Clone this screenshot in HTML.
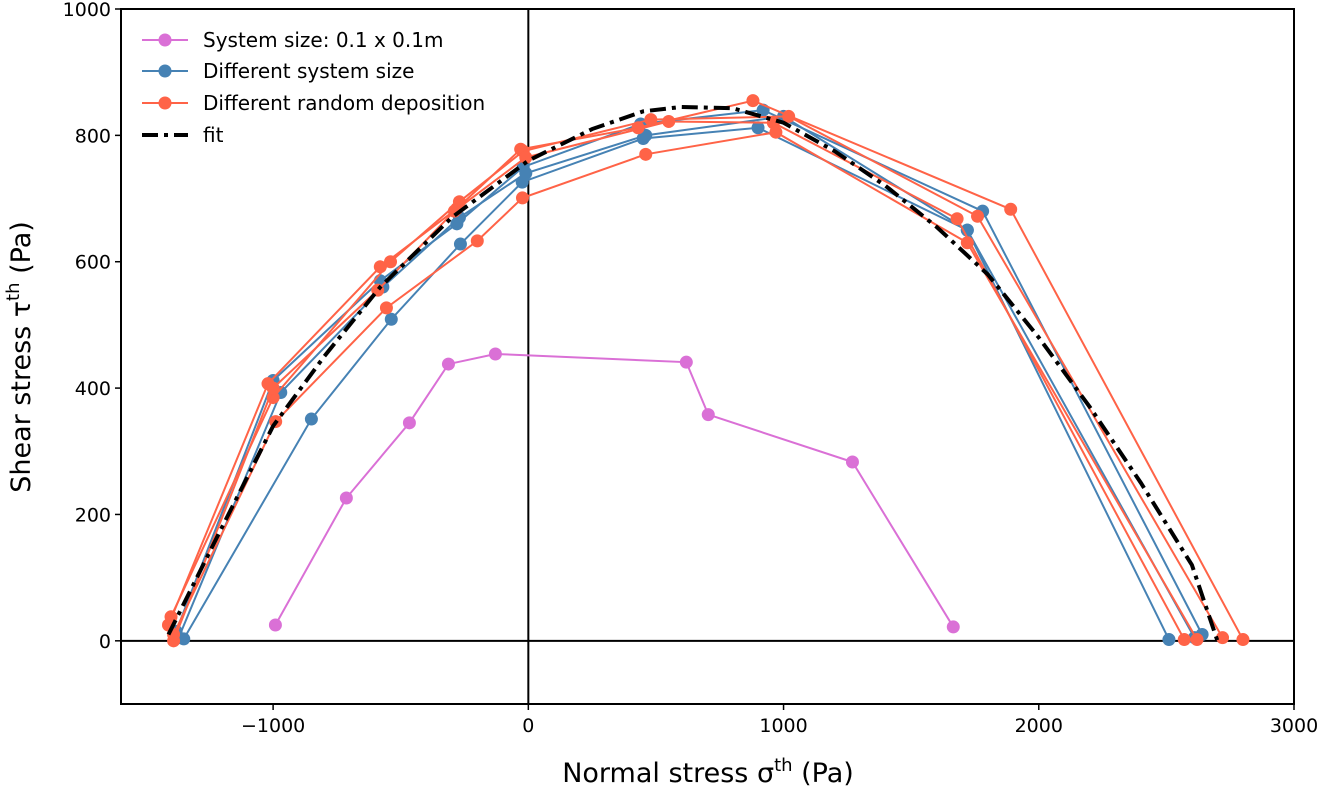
<!DOCTYPE html>
<html><head><meta charset="utf-8"><style>
body{margin:0;background:#fff}
svg{font-family:"DejaVu Sans","Liberation Sans",sans-serif}
</style></head><body>
<svg id="chart" width="1320" height="788" xmlns="http://www.w3.org/2000/svg"></svg>
<script>
const xTicks=[-1000,0,1000,2000,3000];
const yTicks=[0,200,400,600,800,1000];
const magX=[-991,-713,-466,-313,-129,619,705,1270,1665];
const magY=[25,226,345,438,454,441,358,283,22];
const blueAX=[-1350,-850,-537,-266,-24,450,900,1720,2510];
const blueAY=[3,351,509,628,726,795,812,650,2];
const blueBX=[-1380,-1000,-580,-280,-20,440,920,1780,2640];
const blueBY=[15,412,570,660,750,818,840,680,10];
const blueCX=[-1370,-970,-570,-270,-10,460,1000,1720,2610];
const blueCY=[5,393,560,670,740,800,830,650,5];
const orABX=[-1410,-1020,-580,-280,-30,430,880,1890,2800];
const orABY=[25,407,592,684,778,812,855,683,2];
const orCX=[-1400,-1000,-540,-270,-20,480,1020,1760,2720];
const orCY=[38,385,600,695,775,825,830,672,5];
const orDX=[-1390,-1000,-590,-290,-10,550,960,1680,2570];
const orDY=[0,400,555,680,765,822,820,668,2];
const orEX=[-1390,-990,-556,-200,-23,460,970,1720,2620];
const orEY=[10,347,527,633,701,770,805,630,2];
const fitX=[-1410,-1200,-1000,-800,-580,-300,0,250,450,600,800,1000,1200,1400,1600,1800,2000,2200,2400,2600,2700];
const fitY=[10,180,340,450,560,670,760,810,838,845,843,820,775,720,655,580,480,370,250,120,0];

const X0=-1596,X1=3000,Y0=-100,Y1=1000,L=121,R=1294,T=9,B=704;
const sx=v=>L+(v-X0)/(X1-X0)*(R-L);
const sy=v=>B-(v-Y0)/(Y1-Y0)*(B-T);
const svg=document.getElementById('chart');
const NS='http://www.w3.org/2000/svg';
function mk(t,a,p){const e=document.createElementNS(NS,t);for(const k in a)e.setAttribute(k,a[k]);(p||svg).appendChild(e);return e;}

const g0=mk('g',{});


mk('line',{x1:sx(0),x2:sx(0),y1:T,y2:B,stroke:'#000','stroke-width':2},g0);
mk('line',{x1:L,x2:R,y1:sy(0),y2:sy(0),stroke:'#000','stroke-width':2},g0);

function series(xs,ys,color,name){
  const g=mk('g',{});
  
  
  mk('polyline',{points:xs.map((x,i)=>sx(x)+','+sy(ys[i])).join(' '),fill:'none',stroke:color,'stroke-width':2},g);
  xs.forEach((x,i)=>{const c=mk('circle',{cx:sx(x),cy:sy(ys[i]),r:6.5,fill:color},g);
    
    });
}
const BL='#4682b4',OR='#ff6347',MG='#da70d6';
series(blueAX,blueAY,BL,'blue-series-a');
series(blueBX,blueBY,BL,'blue-series-b');
series(blueCX,blueCY,BL,'blue-series-c');
series(orABX,orABY,OR,'orange-series-a');
series(orCX,orCY,OR,'orange-series-b');
series(orDX,orDY,OR,'orange-series-c');
series(orEX,orEY,OR,'orange-series-d');
series(magX,magY,MG,'magenta-series');
const fit=mk('polyline',{points:fitX.map((x,i)=>sx(x)+','+sy(fitY[i])).join(' '),fill:'none',stroke:'#000','stroke-width':4,'stroke-dasharray':'16,6,4,6'});



const fr=mk('rect',{x:L,y:T,width:R-L,height:B-T,fill:'none',stroke:'#000','stroke-width':2});



xTicks.forEach(v=>{
  mk('line',{x1:sx(v),x2:sx(v),y1:B,y2:B+6,stroke:'#000','stroke-width':1.5});
  const t=mk('text',{x:sx(v),y:B+28,'text-anchor':'middle','font-size':19});
  t.textContent=v<0?'\u2212'+(-v):String(v);
  
  
});
yTicks.forEach(v=>{
  mk('line',{x1:L-6,x2:L,y1:sy(v),y2:sy(v),stroke:'#000','stroke-width':1.5});
  const t=mk('text',{x:L-10,y:sy(v)+7,'text-anchor':'end','font-size':19});
  t.textContent=String(v);
  
  
});
</script>
<svg style="position:absolute;left:0;top:0" width="1320" height="788">
<text x="708" y="782" text-anchor="middle" font-size="27" font-family="DejaVu Sans,sans-serif">Normal stress σ<tspan font-size="18" dy="-11">th</tspan><tspan dy="11"> (Pa)</tspan></text>
<text transform="translate(30,357) rotate(-90)" text-anchor="middle" font-size="27" font-family="DejaVu Sans,sans-serif">Shear stress τ<tspan font-size="18" dy="-11">th</tspan><tspan dy="11"> (Pa)</tspan></text>
<g font-family="DejaVu Sans,sans-serif" font-size="20">
<g><line x1="142" x2="188" y1="40" y2="40" stroke="#da70d6" stroke-width="2"/><circle cx="165" cy="40" r="6.5" fill="#da70d6"/><text x="203" y="47">System size: 0.1 x 0.1m</text></g>
<g><line x1="142" x2="188" y1="71" y2="71" stroke="#4682b4" stroke-width="2"/><circle cx="165" cy="71" r="6.5" fill="#4682b4"/><text x="203" y="78">Different system size</text></g>
<g><line x1="142" x2="188" y1="103" y2="103" stroke="#ff6347" stroke-width="2"/><circle cx="165" cy="103" r="6.5" fill="#ff6347"/><text x="203" y="110">Different random deposition</text></g>
<g><line x1="142" x2="188" y1="135" y2="135" stroke="#000" stroke-width="4" stroke-dasharray="16,6,4,6"/><text x="203" y="142">fit</text></g>
</g>
</svg>
</body></html>
